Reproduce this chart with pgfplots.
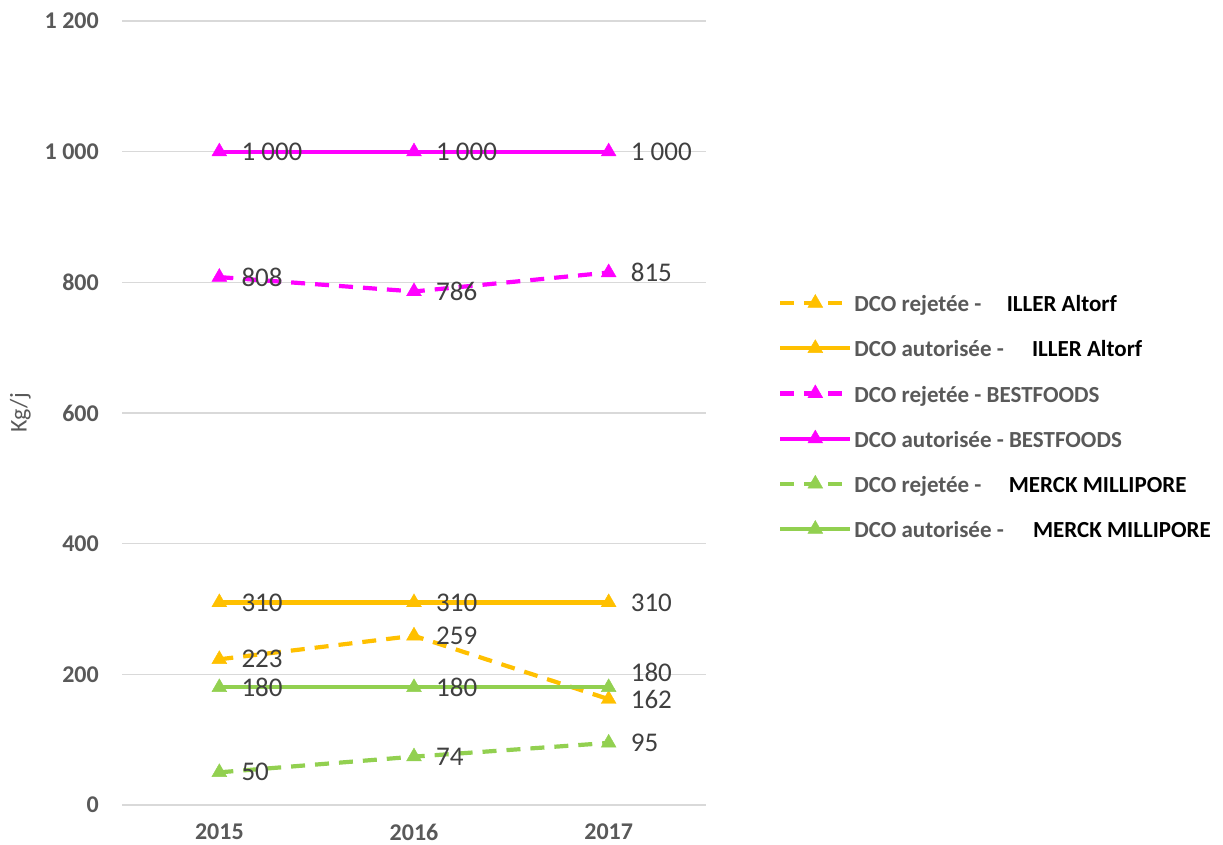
\documentclass[border=0pt]{standalone}
\usepackage{fontspec}
\setmainfont{Carlito}
\usepackage{pgfplots}
\pgfplotsset{compat=1.18}
\definecolor{orng}{HTML}{FFC000}
\definecolor{mag}{HTML}{FF00FF}
\definecolor{grn}{HTML}{92D050}
\definecolor{txtgray}{HTML}{595959}
\definecolor{lblgray}{HTML}{404040}
\definecolor{gridgray}{HTML}{D9D9D9}

\begin{document}
\begin{tikzpicture}[x=1pt,y=1pt]
\useasboundingbox (0,0) rectangle (1223,845);
\begin{axis}[
  at={(122pt,40pt)}, anchor=south west,
  scale only axis, width=584pt, height=784pt,
  xmin=-0.5, xmax=2.5, ymin=0, ymax=1200,
  xtick={0,1,2}, xticklabels={2015,2016,2017},
  ytick={0,200,...,1200},
  ymajorgrids, grid style={gridgray, line width=1.3pt},
  axis line style={draw=none},
  major tick length=0pt,
  tick label style={font=\fontsize{24}{28}\selectfont\bfseries, text=txtgray, inner sep=0pt},
  /pgf/number format/assume math mode=true,
  /pgf/number format/1000 sep={\ },
  yticklabel style={xshift=-23pt},
  xticklabel style={yshift=-19pt},
  ylabel={Kg/j},
  ylabel style={font=\fontsize{24}{28}\selectfont, text=txtgray, at={(axis description cs:-0.174,0.5)}, anchor=center},
  nodes near coords,
  every node near coord/.append style={font=\fontsize{27}{32}\selectfont, text=lblgray, anchor=west, inner sep=0pt, xshift=22pt},
  legend style={at={(1.1233,0.656)}, anchor=north west, draw=none, fill=none, inner sep=0pt,
    font=\fontsize{23}{27}\selectfont\bfseries, text=txtgray, cells={anchor=west}, row sep=20.8pt},
  legend image code/.code={\draw[mark repeat=2,mark phase=2] plot coordinates {(0pt,0pt) (35pt,0pt) (70pt,0pt)};},
  every axis plot/.append style={line width=4.2pt, mark=triangle*, mark size=8.6pt, mark options={solid, line width=0.4pt}},
]
\addplot[orng, dash pattern=on 14pt off 10pt] coordinates {(0,223) (1,259) (2,162)};
\addlegendentry{\strut DCO rejetée - \hspace{20pt}\textcolor{black}{ILLER Altorf}}
\addplot[orng] coordinates {(0,310) (1,310) (2,310)};
\addlegendentry{\strut DCO autorisée - \hspace{23pt}\textcolor{black}{ILLER Altorf}}
\addplot[mag, dash pattern=on 14pt off 10pt] coordinates {(0,808) (1,786) (2,815)};
\addlegendentry{\strut DCO rejetée - BESTFOODS}
\addplot[mag] coordinates {(0,1000) (1,1000) (2,1000)};
\addlegendentry{\strut DCO autorisée - BESTFOODS}
\addplot[grn, dash pattern=on 14pt off 10pt] coordinates {(0,50) (1,74) (2,95)};
\addlegendentry{\strut DCO rejetée - \hspace{22pt}\textcolor{black}{MERCK MILLIPORE}}
\addplot[grn, coordinate style/.condition={x==2}{yshift=15pt}] coordinates {(0,180) (1,180) (2,180)};
\addlegendentry{\strut DCO autorisée - \hspace{24pt}\textcolor{black}{MERCK MILLIPORE}}
\end{axis}
\end{tikzpicture}
\end{document}
